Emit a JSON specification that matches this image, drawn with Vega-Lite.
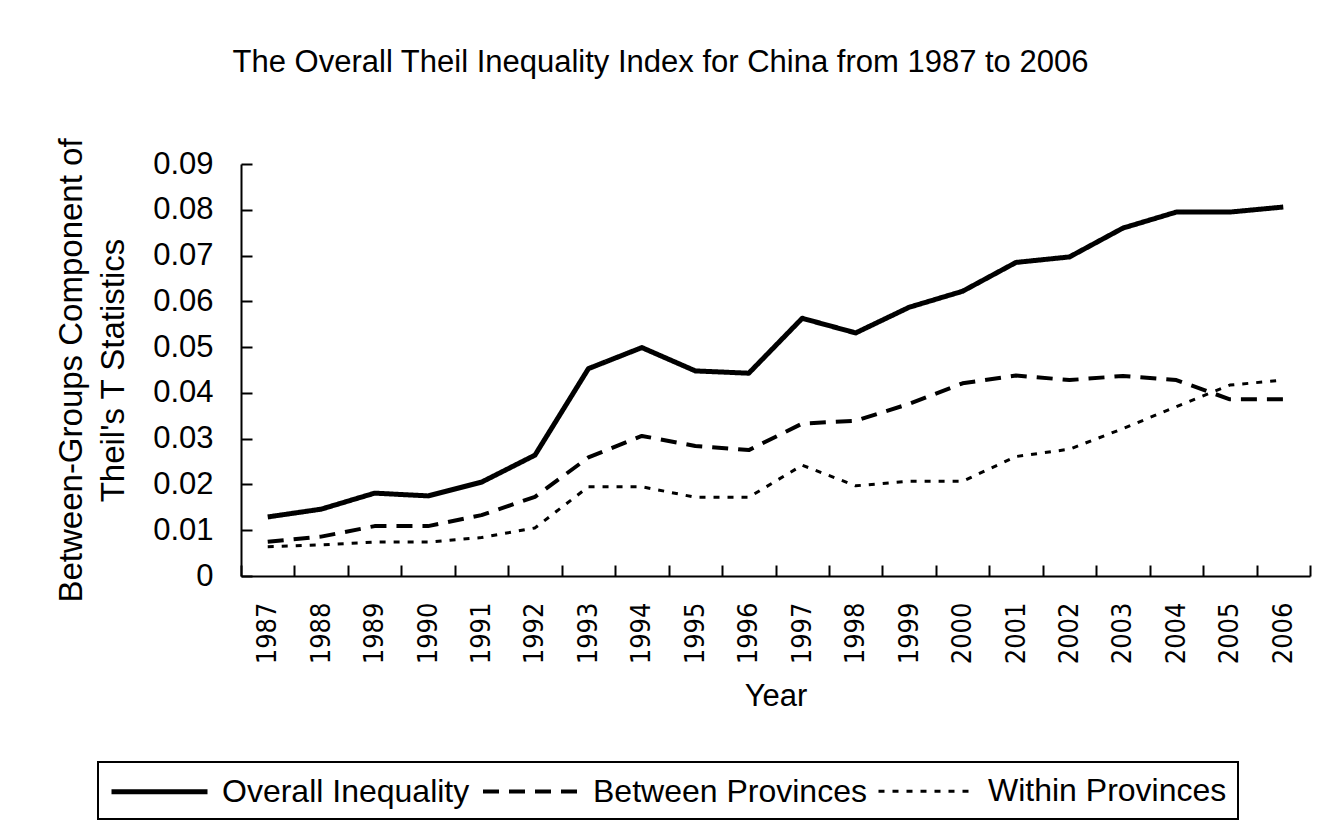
{
  "$schema": "https://vega.github.io/schema/vega-lite/v6.json",
  "width": 1069,
  "height": 412,
  "autosize": {"type": "none"},
  "padding": {"left": 241, "top": 164, "right": 8, "bottom": 246},
  "background": "white",
  "title": {
    "text": "The Overall Theil Inequality Index for China from 1987 to 2006",
    "font": "Liberation Sans",
    "fontSize": 31,
    "fontWeight": "normal",
    "color": "black",
    "anchor": "middle",
    "dx": -115,
    "offset": 59
  },
  "data": {
    "values": [
      {"year": "1987", "series": "Overall Inequality", "value": 0.0129},
      {"year": "1988", "series": "Overall Inequality", "value": 0.0146},
      {"year": "1989", "series": "Overall Inequality", "value": 0.0181},
      {"year": "1990", "series": "Overall Inequality", "value": 0.0175},
      {"year": "1991", "series": "Overall Inequality", "value": 0.0205},
      {"year": "1992", "series": "Overall Inequality", "value": 0.0264},
      {"year": "1993", "series": "Overall Inequality", "value": 0.0453},
      {"year": "1994", "series": "Overall Inequality", "value": 0.0499},
      {"year": "1995", "series": "Overall Inequality", "value": 0.0448},
      {"year": "1996", "series": "Overall Inequality", "value": 0.0443},
      {"year": "1997", "series": "Overall Inequality", "value": 0.0563},
      {"year": "1998", "series": "Overall Inequality", "value": 0.0531},
      {"year": "1999", "series": "Overall Inequality", "value": 0.0587},
      {"year": "2000", "series": "Overall Inequality", "value": 0.0622},
      {"year": "2001", "series": "Overall Inequality", "value": 0.0685},
      {"year": "2002", "series": "Overall Inequality", "value": 0.0697},
      {"year": "2003", "series": "Overall Inequality", "value": 0.0760},
      {"year": "2004", "series": "Overall Inequality", "value": 0.0795},
      {"year": "2005", "series": "Overall Inequality", "value": 0.0795},
      {"year": "2006", "series": "Overall Inequality", "value": 0.0806},
      {"year": "1987", "series": "Between Provinces", "value": 0.0075},
      {"year": "1988", "series": "Between Provinces", "value": 0.0086},
      {"year": "1989", "series": "Between Provinces", "value": 0.0109},
      {"year": "1990", "series": "Between Provinces", "value": 0.0109},
      {"year": "1991", "series": "Between Provinces", "value": 0.0133},
      {"year": "1992", "series": "Between Provinces", "value": 0.0173},
      {"year": "1993", "series": "Between Provinces", "value": 0.0259},
      {"year": "1994", "series": "Between Provinces", "value": 0.0306},
      {"year": "1995", "series": "Between Provinces", "value": 0.0284},
      {"year": "1996", "series": "Between Provinces", "value": 0.0275},
      {"year": "1997", "series": "Between Provinces", "value": 0.0333},
      {"year": "1998", "series": "Between Provinces", "value": 0.0339},
      {"year": "1999", "series": "Between Provinces", "value": 0.0376},
      {"year": "2000", "series": "Between Provinces", "value": 0.0421},
      {"year": "2001", "series": "Between Provinces", "value": 0.0438},
      {"year": "2002", "series": "Between Provinces", "value": 0.0428},
      {"year": "2003", "series": "Between Provinces", "value": 0.0437},
      {"year": "2004", "series": "Between Provinces", "value": 0.0428},
      {"year": "2005", "series": "Between Provinces", "value": 0.0386},
      {"year": "2006", "series": "Between Provinces", "value": 0.0386},
      {"year": "1987", "series": "Within Provinces", "value": 0.0064},
      {"year": "1988", "series": "Within Provinces", "value": 0.0068},
      {"year": "1989", "series": "Within Provinces", "value": 0.0074},
      {"year": "1990", "series": "Within Provinces", "value": 0.0074},
      {"year": "1991", "series": "Within Provinces", "value": 0.0084},
      {"year": "1992", "series": "Within Provinces", "value": 0.0105},
      {"year": "1993", "series": "Within Provinces", "value": 0.0195},
      {"year": "1994", "series": "Within Provinces", "value": 0.0195},
      {"year": "1995", "series": "Within Provinces", "value": 0.0172},
      {"year": "1996", "series": "Within Provinces", "value": 0.0172},
      {"year": "1997", "series": "Within Provinces", "value": 0.0242},
      {"year": "1998", "series": "Within Provinces", "value": 0.0197},
      {"year": "1999", "series": "Within Provinces", "value": 0.0207},
      {"year": "2000", "series": "Within Provinces", "value": 0.0207},
      {"year": "2001", "series": "Within Provinces", "value": 0.0261},
      {"year": "2002", "series": "Within Provinces", "value": 0.0277},
      {"year": "2003", "series": "Within Provinces", "value": 0.0322},
      {"year": "2004", "series": "Within Provinces", "value": 0.0370},
      {"year": "2005", "series": "Within Provinces", "value": 0.0417},
      {"year": "2006", "series": "Within Provinces", "value": 0.0428}
    ]
  },
  "mark": {"type": "line", "color": "black", "strokeCap": "butt", "strokeJoin": "round"},
  "encoding": {
    "x": {
      "field": "year",
      "type": "ordinal",
      "scale": {"paddingInner": 0, "paddingOuter": 0},
      "axis": {
        "title": "Year",
        "labelAngle": -90,
        "tickBand": "extent",
        "tickSize": -11,
        "tickWidth": 2,
        "tickColor": "black",
        "domainColor": "black",
        "domainWidth": 2,
        "labelPadding": 37,
        "labelFont": "DejaVu Sans Condensed, DejaVu Sans",
        "labelFontSize": 27,
        "labelColor": "black",
        "titleFont": "Liberation Sans",
        "titleFontSize": 31,
        "titleFontWeight": "normal",
        "titleColor": "black",
        "titlePadding": 18
      }
    },
    "y": {
      "field": "value",
      "type": "quantitative",
      "scale": {"domain": [0, 0.09], "nice": false},
      "axis": {
        "values": [0, 0.01, 0.02, 0.03, 0.04, 0.05, 0.06, 0.07, 0.08, 0.09],
        "labelExpr": "datum.value == 0 ? '0' : format(datum.value, '.2f')",
        "grid": false,
        "tickSize": -11,
        "tickWidth": 2,
        "tickColor": "black",
        "domainColor": "black",
        "domainWidth": 2,
        "labelPadding": 39,
        "labelFont": "Liberation Sans",
        "labelFontSize": 31,
        "labelColor": "black",
        "title": ["Between-Groups Component of", "Theil's T Statistics"],
        "titleFont": "Liberation Sans",
        "titleFontSize": 33,
        "titleFontWeight": "normal",
        "titleColor": "black",
        "titleLineHeight": 42,
        "titlePadding": 22
      }
    },
    "strokeDash": {
      "field": "series",
      "type": "nominal",
      "scale": {
        "domain": ["Overall Inequality", "Between Provinces", "Within Provinces"],
        "range": [[1, 0], [16, 10], [6, 8]]
      },
      "legend": {
        "title": null,
        "orient": "none",
        "direction": "horizontal",
        "legendX": -143,
        "legendY": 598,
        "symbolType": "M-1,0H5",
        "symbolSize": 1024,
        "symbolStrokeColor": "black",
        "labelFont": "Liberation Sans",
        "labelFontSize": 32,
        "labelColor": "black",
        "labelLimit": 500,
        "labelOffset": 76,
        "columnPadding": 5,
        "padding": 11,
        "strokeColor": "black",
        "fillColor": "white"
      }
    },
    "strokeWidth": {
      "field": "series",
      "type": "nominal",
      "scale": {
        "domain": ["Overall Inequality", "Between Provinces", "Within Provinces"],
        "range": [5, 3, 3]
      },
      "legend": {
        "title": null,
        "orient": "none",
        "direction": "horizontal",
        "legendX": -143,
        "legendY": 598,
        "symbolType": "M-1,0H5",
        "symbolSize": 1024,
        "symbolStrokeColor": "black",
        "labelFont": "Liberation Sans",
        "labelFontSize": 32,
        "labelColor": "black",
        "labelLimit": 500,
        "labelOffset": 76,
        "columnPadding": 5,
        "padding": 11,
        "strokeColor": "black",
        "fillColor": "white"
      }
    }
  },
  "config": {
    "view": {"stroke": null},
    "legend": {"strokeWidth": 2}
  }
}
